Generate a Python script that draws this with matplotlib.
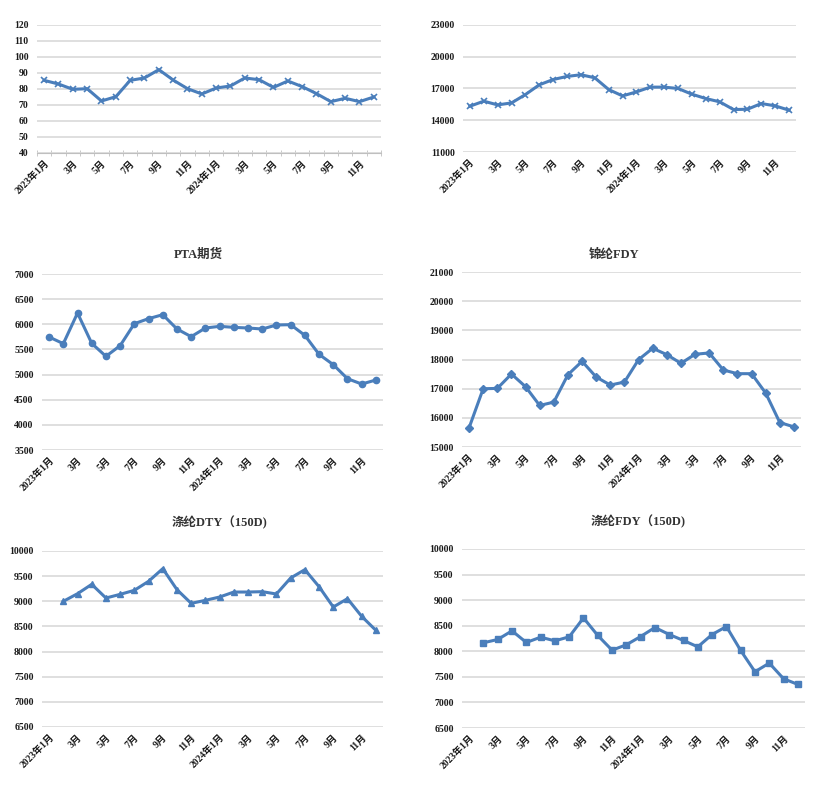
import numpy as np
import matplotlib
matplotlib.use("Agg")
import matplotlib.pyplot as plt
from matplotlib.ticker import FixedLocator

plt.rcParams['font.family'] = ['Liberation Serif', 'Noto Sans CJK SC']
plt.rcParams['font.weight'] = 'bold'

# category labels: Jan 2023 .. Dec 2024, label every other month
xlabels = [("2023年1月" if i == 0 else "2024年1月" if i == 12 else f"{(i % 12) + 1}月")
           for i in range(0, 24, 2)]

# data
idx_1 = [85.4, 83.1, 79.8, 80.2, 72.5, 75.2, 85.4, 86.9, 92.1, 85.6, 80.2, 76.9,
         80.6, 81.9, 86.9, 85.8, 81.0, 85.0, 81.5, 77.1, 72.1, 74.2, 72.1, 75.0]
price_2 = [15330, 15800, 15450, 15640, 16430, 17350, 17850, 18140, 18300, 18010, 16900, 16300,
           16680, 17130, 17130, 17000, 16460, 16050, 15740, 15010, 15040, 15580, 15360, 14950]
pta = [5747, 5615, 6224, 5621, 5363, 5575, 6012, 6112, 6191, 5906, 5754, 5926,
       5959, 5939, 5926, 5906, 5986, 5992, 5780, 5402, 5197, 4918, 4812, 4892]
nylon_fdy = [15656, 16998, 17009, 17502, 17067, 16424, 16539, 17479, 17938, 17399, 17124, 17227,
             17995, 18385, 18167, 17869, 18179, 18225, 17640, 17514, 17514, 16849, 15839, 15690]
dty_150d = [np.nan, 8999, 9151, 9337, 9065, 9138, 9218, 9397, 9649, 9231, 8959, 9019,
            9085, 9184, 9184, 9191, 9145, 9463, 9629, 9290, 8886, 9052, 8700, 8422]
fdy_150d = [np.nan, 8166, 8231, 8400, 8172, 8276, 8204, 8283, 8653, 8309, 8022, 8127,
            8289, 8465, 8328, 8211, 8087, 8328, 8484, 8016, 7600, 7769, 7463, 7352]

BLUE = '#4a7ebb'
GRID = '#d9d9d9'
W, H = 820, 791


def rect(x0, y0, x1, y1):
    # pixel box -> figure fraction
    return [x0 / W, 1 - y1 / H, (x1 - x0) / W, (y1 - y0) / H]


def panel(fig, box, vals, yticks, marker, ms, xaxis_line=False):
    ax = fig.add_axes(rect(*box))
    x = np.arange(len(vals))
    ax.plot(x, vals, color=BLUE, lw=2.2, marker=marker, ms=ms,
            mec=BLUE, mfc=BLUE, mew=1.0 if marker != 'x' else 1.2)
    ax.set_xlim(-0.5, len(vals) - 0.5)
    ax.set_ylim(yticks[0], yticks[-1])
    ax.set_yticks(yticks)
    ax.set_yticklabels([str(t) for t in yticks])
    ax.set_xticks(np.arange(0, 24, 2))
    ax.set_xticklabels(xlabels, rotation=45, ha='right', rotation_mode='anchor')
    ax.grid(axis='y', color=GRID, lw=1.2)
    ax.set_axisbelow(True)
    for s in ax.spines.values():
        s.set_visible(False)
    ax.tick_params(axis='both', length=0, labelsize=7, colors='#1a1a1a')
    ax.tick_params(axis='y', pad=6)
    ax.tick_params(axis='x', pad=4)
    if xaxis_line:
        ax.spines['bottom'].set_visible(True)
        ax.spines['bottom'].set_color('#bfbfbf')
        ax.xaxis.set_minor_locator(FixedLocator(np.arange(-0.5, 24, 1)))
        ax.tick_params(axis='x', which='minor', length=4, direction='inout', color='#bfbfbf')
    return ax


fig = plt.figure(figsize=(W / 100, H / 100), dpi=100)

panel(fig, (37, 25, 381, 153), idx_1, list(range(40, 121, 10)), 'x', 5, xaxis_line=True)
panel(fig, (463, 25, 796, 152), price_2, [11000, 14000, 17000, 20000, 23000], 'x', 5)
panel(fig, (42, 274, 383, 450), pta, list(range(3500, 7001, 500)), 'o', 4.5)
panel(fig, (462, 272, 801, 447), nylon_fdy, list(range(15000, 21001, 1000)), 'D', 4)
panel(fig, (42, 551, 383, 727), dty_150d, list(range(6500, 10001, 500)), '^', 4.5)
panel(fig, (462, 549, 805, 728), fdy_150d, list(range(6500, 10001, 500)), 's', 4.5)

tkw = dict(ha='center', va='center', fontsize=9, fontweight='bold', color='#333333')
fig.text(198 / W, 1 - 255 / H, "PTA期货", **tkw)
fig.text(614 / W, 1 - 255 / H, "锦纶FDY", **tkw)
fig.text(219 / W, 1 - 523 / H, "涤纶DTY（150D)", **tkw)
fig.text(638 / W, 1 - 522 / H, "涤纶FDY（150D)", **tkw)

fig.savefig("out.png", dpi=100)
